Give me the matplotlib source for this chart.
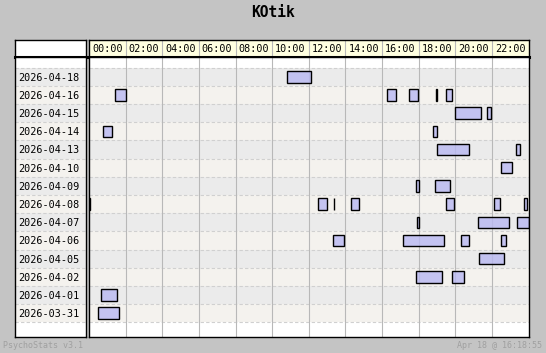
import matplotlib.pyplot as plt
import matplotlib as mpl

# %% data
days = ['2026-04-18', '2026-04-16', '2026-04-15', '2026-04-14', '2026-04-13',
        '2026-04-10', '2026-04-09', '2026-04-08', '2026-04-07', '2026-04-06',
        '2026-04-05', '2026-04-02', '2026-04-01', '2026-03-31']

# play sessions per day, (start hour, end hour)
sessions = [
    [(10.81, 12.15)],
    [(1.44, 2.01), (16.29, 16.75), (17.50, 17.99), (18.97, 18.98), (19.47, 19.80)],
    [(19.96, 21.39), (21.75, 21.96)],
    [(0.78, 1.24), (18.81, 19.03)],
    [(18.98, 20.75), (23.30, 23.54)],
    [(22.48, 23.11)],
    [(17.83, 18.01), (18.87, 19.71)],
    [(0.0, 0.05), (12.51, 13.02), (13.38, 13.39), (14.32, 14.72), (19.47, 19.93),
     (22.10, 22.45), (23.74, 23.93)],
    [(17.93, 18.00), (21.22, 22.94), (23.36, 24.0)],
    [(13.33, 13.90), (17.17, 19.38), (20.29, 20.75), (22.48, 22.78)],
    [(21.28, 22.67)],
    [(17.88, 19.27), (19.80, 20.48)],
    [(0.68, 1.52)],
    [(0.51, 1.63)],
]

hour_ticks = list(range(0, 24, 2))
hour_labels = ['%02d:00' % h for h in hour_ticks]

title = 'KOtik'
footer_left = 'PsychoStats v3.1'
footer_right = 'Apr 18 @ 16:18:55'

# %% style
W, H = 546, 353
BG = '#c4c4c4'
ROW_COLS = ['#ebebeb', '#f4f2ee']
BAR_COL = (0.72, 0.72, 0.95, 0.8)  # semi transparent so the grid shows through
MONO = 'DejaVu Sans Mono'

def px(x0, y0, x1, y1):
    return [x0 / W, 1 - y1 / H, (x1 - x0) / W, (y1 - y0) / H]

fig = plt.figure(figsize=(W / 100, H / 100), dpi=100, facecolor=BG)

n = len(days)
row_px = 18.19
top_extra = 10.7 / row_px
bot_extra = 15.0 / row_px
ylims = (n - 0.5 + bot_extra, -0.5 - top_extra)

# x extents in pixels
lx0, lx1 = 15, 85.5
cx0, cx1 = 89, 528.5
hy0, hy1, by1 = 40, 57, 337.3

ax_hl = fig.add_axes(px(lx0, hy0, lx1, hy1))   # header of label column
ax_h = fig.add_axes(px(cx0, hy0, cx1, hy1))    # time header
ax_l = fig.add_axes(px(lx0, hy1, lx1, by1))    # day labels
ax = fig.add_axes(px(cx0, hy1, cx1, by1))      # chart

for a in (ax_hl, ax_h, ax_l, ax):
    a.set_xticks([])
    a.set_yticks([])
    for s in a.spines.values():
        s.set_linewidth(1.0)
        s.set_color('black')

# header cells
ax_hl.set_facecolor('white')
ax_h.set_facecolor('#ffffe0')
ax_h.set_xlim(0, 24)
ax_h.set_ylim(0, 1)
for h, lab in zip(hour_ticks, hour_labels):
    if h > 0:
        ax_h.axvline(h, color='#b8b8b8', lw=0.8)
    ax_h.text(h + 1, 0.45, lab, ha='center', va='center', fontsize=7.3, family=MONO)
for a in (ax_hl, ax_h):
    a.spines['bottom'].set_linewidth(2.2)

# label column
ax_l.set_facecolor('white')
ax_l.set_xlim(0, 1)
ax_l.set_ylim(*ylims)
for i, d in enumerate(days):
    ax_l.axhspan(i - 0.5, i + 0.5, color=ROW_COLS[i % 2], lw=0)
    ax_l.text(0.05, i + 0.05, d, ha='left', va='center', fontsize=7.3, family=MONO)
for i in range(n + 1):
    ax_l.axhline(i - 0.5, color='#d0d0d0', lw=0.8, ls=(0, (3, 2)))

# chart
ax.set_facecolor('white')
ax.set_xlim(0, 24)
ax.set_ylim(*ylims)
for i in range(n):
    ax.axhspan(i - 0.5, i + 0.5, color=ROW_COLS[i % 2], lw=0, zorder=0)
for i in range(n + 1):
    ax.axhline(i - 0.5, color='#d0d0d0', lw=0.8, ls=(0, (3, 2)), zorder=1)
for h in hour_ticks[1:]:
    ax.axvline(h, color='#b8b8b8', lw=0.8, zorder=1.5)
for i, segs in enumerate(sessions):
    starts = [s for s, e in segs]
    widths = [e - s for s, e in segs]
    ax.barh([i] * len(segs), widths, left=starts, height=0.63,
            facecolor=BAR_COL, edgecolor='black', lw=1.0, zorder=2)

# texts
fig.text(272.5 / W, 1 - 12.5 / H, title, ha='center', va='center',
         fontsize=10.5, fontweight='bold', family=MONO)
fig.text(3 / W, 1 - 346 / H, footer_left, ha='left', va='center',
         fontsize=6, family=MONO, color='#a0a0a0')
fig.text(542 / W, 1 - 346 / H, footer_right, ha='right', va='center',
         fontsize=6, family=MONO, color='#a0a0a0')

fig.savefig('out.png', dpi=100, facecolor=BG)
